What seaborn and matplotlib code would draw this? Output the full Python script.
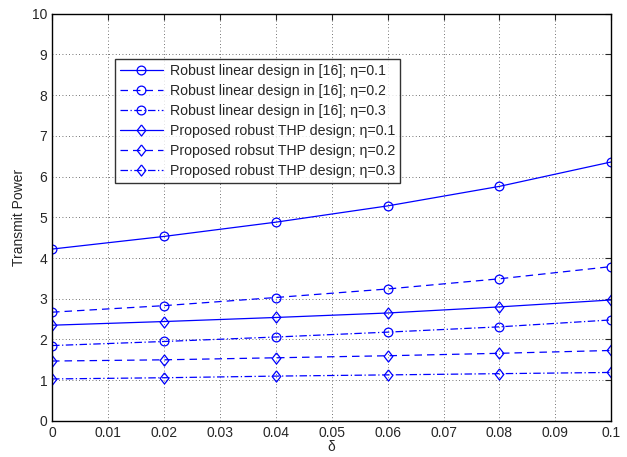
import numpy as np
import pandas as pd
import matplotlib
matplotlib.use("Agg")
import matplotlib.pyplot as plt
import seaborn as sns

# ── Data ───────────────────────────────────────────────────────────────────
delta = [0, 0.02, 0.04, 0.06, 0.08, 0.1]

linear_eta01 = [4.22, 4.53, 4.88, 5.28, 5.76, 6.36]
linear_eta02 = [2.67, 2.83, 3.03, 3.24, 3.49, 3.79]
linear_eta03 = [1.85, 1.95, 2.06, 2.18, 2.31, 2.48]
thp_eta01 = [2.35, 2.44, 2.54, 2.65, 2.80, 2.97]
thp_eta02 = [1.47, 1.50, 1.55, 1.60, 1.66, 1.73]
thp_eta03 = [1.03, 1.06, 1.10, 1.13, 1.16, 1.19]

labels = [
    "Robust linear design in [16]; η=0.1",
    "Robust linear design in [16]; η=0.2",
    "Robust linear design in [16]; η=0.3",
    "Proposed robust THP design; η=0.1",
    "Proposed robsut THP design; η=0.2",
    "Proposed robust THP design; η=0.3",
]
series = [linear_eta01, linear_eta02, linear_eta03, thp_eta01, thp_eta02, thp_eta03]

# MATLAB-like diamond (a bit taller than wide)
diamond = [(0, 1), (0.78, 0), (0, -1), (-0.78, 0), (0, 1)]
markers = ["o", "o", "o", diamond, diamond, diamond]
msizes = [6.3, 6.3, 6.3, 8, 8, 8]
linestyles = ["-", (0, (6, 4)), (0, (6, 2, 1, 2)), "-", (0, (6, 4)), (0, (6, 2, 1, 2))]

# ── Plot ───────────────────────────────────────────────────────────────────
sns.set_style("white")
plt.rcParams["font.family"] = ["Liberation Sans", "DejaVu Sans"]

fig, ax = plt.subplots(figsize=(6.27, 4.57), dpi=100)

for lab, vals, mk, ms, ls in zip(labels, series, markers, msizes, linestyles):
    sns.lineplot(x=delta, y=vals, ax=ax, label=lab, color="blue",
                 marker=mk, markersize=ms,
                 markerfacecolor="none", markeredgecolor="blue",
                 markeredgewidth=0.9, linewidth=0.9, linestyle=ls)

ax.set_xlim(0, 0.1)
ax.set_ylim(0, 10)
ax.set_xticks(np.arange(0, 0.1001, 0.01))
ax.set_xticklabels(["0"] + [f"{v:.2f}" for v in np.arange(0.01, 0.0951, 0.01)] + ["0.1"])
ax.set_yticks(range(0, 11))
ax.set_xlabel("δ", fontsize=10, labelpad=0)
ax.set_ylabel("Transmit Power", fontsize=10)
ax.tick_params(direction="in", labelsize=10, top=True, right=True, length=4, width=0.8)
ax.grid(True, linestyle=(0, (1, 3)), color="#444444", linewidth=0.6)
for sp in ax.spines.values():
    sp.set_color("black")
    sp.set_linewidth(1.0)

leg = ax.legend(loc="upper left", bbox_to_anchor=(0.113, 0.889), borderaxespad=0,
                fontsize=10.2, frameon=True, fancybox=False, edgecolor="black",
                handlelength=3.0, borderpad=0.35, labelspacing=0.42, handletextpad=0.5)
leg.get_frame().set_linewidth(1.0)

fig.subplots_adjust(left=0.083, right=0.975, top=0.97, bottom=0.079)
fig.savefig("out.png", dpi=100)
